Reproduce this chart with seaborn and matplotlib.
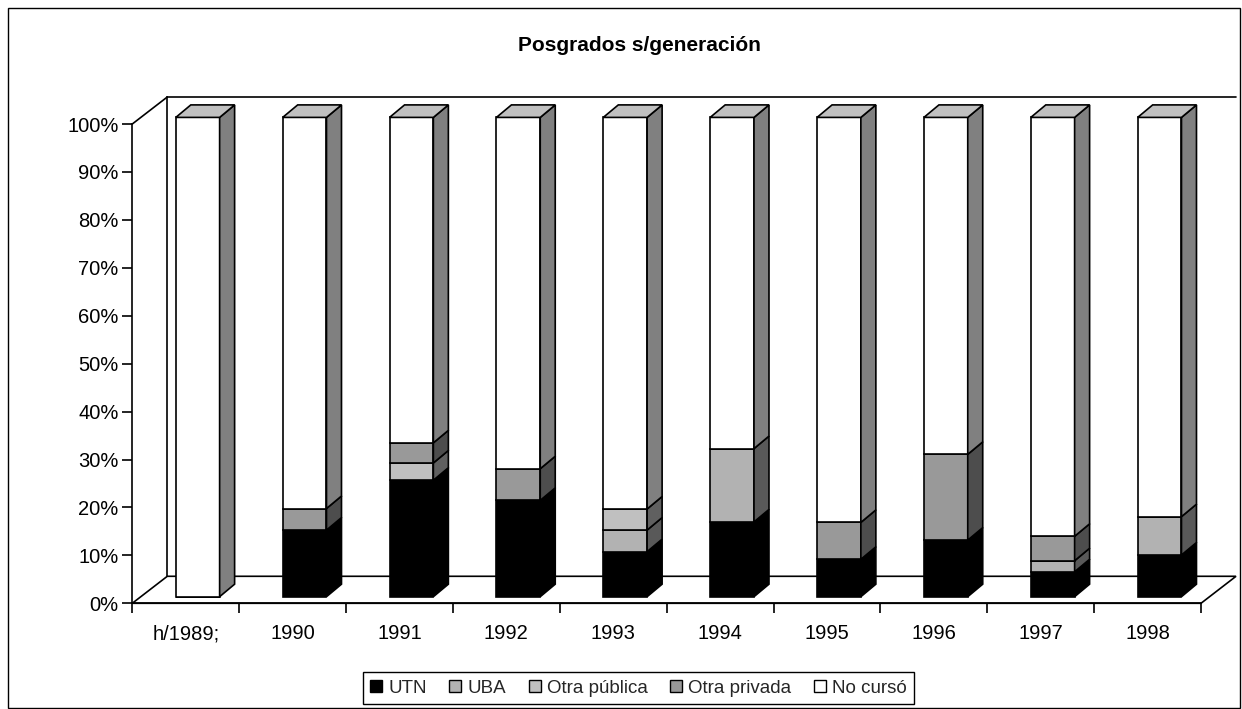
import numpy as np
import pandas as pd
import matplotlib.pyplot as plt
import seaborn as sns
from matplotlib.patches import Polygon, Patch, Rectangle

# values (percent of each generation)
years = ["h/1989;", "1990", "1991", "1992", "1993", "1994", "1995", "1996", "1997", "1998"]
utn = [0, 13.9, 24.3, 20.1, 9.4, 15.6, 7.8, 11.8, 5.2, 8.7]
uba = [0, 0, 0, 0, 4.5, 15.3, 0, 0, 2.3, 8.0]
otra_publica = [0, 0, 3.6, 0, 4.4, 0, 0, 0, 0, 0]
otra_privada = [0, 4.5, 4.2, 6.6, 0, 0, 7.7, 17.9, 5.1, 0]
no_curso = [100, 81.6, 67.9, 73.3, 81.7, 69.1, 84.5, 70.3, 87.4, 83.3]

series_names = ["UTN", "UBA", "Otra pública", "Otra privada", "No cursó"]
front_colors = ["#000000", "#b2b2b2", "#c0c0c0", "#999999", "#ffffff"]
side_colors = ["#000000", "#595959", "#606060", "#4d4d4d", "#808080"]
top_color = "#c0c0c0"

df = pd.DataFrame({
    "year": years,
    "UTN": utn,
    "UBA": uba,
    "Otra pública": otra_publica,
    "Otra privada": otra_privada,
    "No cursó": no_curso,
})

sns.set_theme(style="white")
plt.rcParams["font.family"] = ["Liberation Sans", "DejaVu Sans"]

fig = plt.figure(figsize=(12.42, 7.09), dpi=100)
ax = fig.add_axes([0.1065, 0.1491, 0.8605, 0.676])

# pseudo 3D geometry, converted from pixels to data units
px_x = 10 / 1068.7
px_y = 100 / 479.3
floor_dx, floor_dy = 35 * px_x, 27 * px_y
front_dx, front_dy = 12 * px_x, 6.6 * px_y
depth_dx, depth_dy = 15 * px_x, 12.5 * px_y
bar_w = 0.41
lw = 1.2

# floor and walls
x_lo, x_hi = -0.5, 9.5
floor = Polygon([(x_lo, 0), (x_hi, 0), (x_hi + floor_dx, floor_dy), (x_lo + floor_dx, floor_dy)],
                closed=True, facecolor="white", edgecolor="black", linewidth=lw, clip_on=False, zorder=1)
ax.add_patch(floor)
line_kw = dict(color="black", linewidth=lw, clip_on=False, zorder=1)
ax.plot([x_lo, x_lo + floor_dx], [100, 100 + floor_dy], **line_kw)
ax.plot([x_lo + floor_dx, x_lo + floor_dx], [floor_dy, 100 + floor_dy], **line_kw)
ax.plot([x_lo + floor_dx, x_hi + floor_dx], [100 + floor_dy, 100 + floor_dy], **line_kw)

# stacked 3D-ish columns
cum = np.zeros(len(years))
for k, name in enumerate(series_names):
    vals = df[name].to_numpy()
    n0 = len(ax.patches)
    sns.barplot(data=df, x="year", y=name, order=years, color=front_colors[k], saturation=1,
                width=bar_w, edgecolor="black", linewidth=lw, errorbar=None,
                bottom=cum + front_dy, ax=ax, zorder=3)
    for p in ax.patches[n0:]:
        p.set_x(p.get_x() + front_dx)
        p.set_clip_on(False)
        h = p.get_height()
        if h <= 0:
            continue
        x0 = p.get_x()
        x1 = x0 + p.get_width()
        b = p.get_y()
        t = b + h
        side = Polygon([(x1, b), (x1 + depth_dx, b + depth_dy), (x1 + depth_dx, t + depth_dy), (x1, t)],
                       closed=True, facecolor=side_colors[k], edgecolor="black", linewidth=lw,
                       clip_on=False, zorder=3)
        ax.add_patch(side)
        if k == len(series_names) - 1:
            top = Polygon([(x0, t), (x1, t), (x1 + depth_dx, t + depth_dy), (x0 + depth_dx, t + depth_dy)],
                          closed=True, facecolor=top_color, edgecolor="black", linewidth=lw,
                          clip_on=False, zorder=3)
            ax.add_patch(top)
    cum += vals

# axes
ax.set_xlim(x_lo, x_hi)
ax.set_ylim(0, 100)
ax.set_xlabel("")
ax.set_ylabel("")
ax.set_yticks(np.arange(0, 101, 10))
ax.set_yticklabels([f"{v}%" for v in range(0, 101, 10)])
ax.set_xticks(range(len(years)))
ax.set_xticklabels(years)
ax.set_xticks(np.arange(-0.5, 10, 1), minor=True)
ax.tick_params(axis="y", left=True, length=7, width=lw, color="black", pad=3, labelsize=14.5, labelcolor="black")
ax.tick_params(axis="x", which="major", bottom=True, length=0, pad=15, labelsize=14.5, labelcolor="black")
ax.tick_params(axis="x", which="minor", bottom=True, length=7, width=lw, color="black")
for s in ["top", "right"]:
    ax.spines[s].set_visible(False)
for s in ["left", "bottom"]:
    ax.spines[s].set_color("black")
    ax.spines[s].set_linewidth(lw)
    ax.spines[s].set_zorder(2)
ax.patch.set_alpha(0)

fig.text(0.5145, 0.9365, "Posgrados s/generación", ha="center", va="center",
         fontsize=15, fontweight="bold", color="black")

handles = [Patch(facecolor=c, edgecolor="black", linewidth=1) for c in front_colors]
leg = fig.legend(handles, series_names, loc="center", bbox_to_anchor=(0.514, 0.0296), ncol=5,
                 frameon=True, fancybox=False, edgecolor="black", framealpha=1, fontsize=13.5,
                 handlelength=0.64, handleheight=0.64, handletextpad=0.32, columnspacing=1.2,
                 borderpad=0.4, borderaxespad=0)
leg.get_frame().set_linewidth(1.0)

# outer chart border
fig.patches.append(Rectangle((8 / 1242, 1 / 709), 1232 / 1242, 700 / 709, transform=fig.transFigure,
                             fill=False, edgecolor="black", linewidth=1.0))

fig.savefig("out.png", dpi=100)
